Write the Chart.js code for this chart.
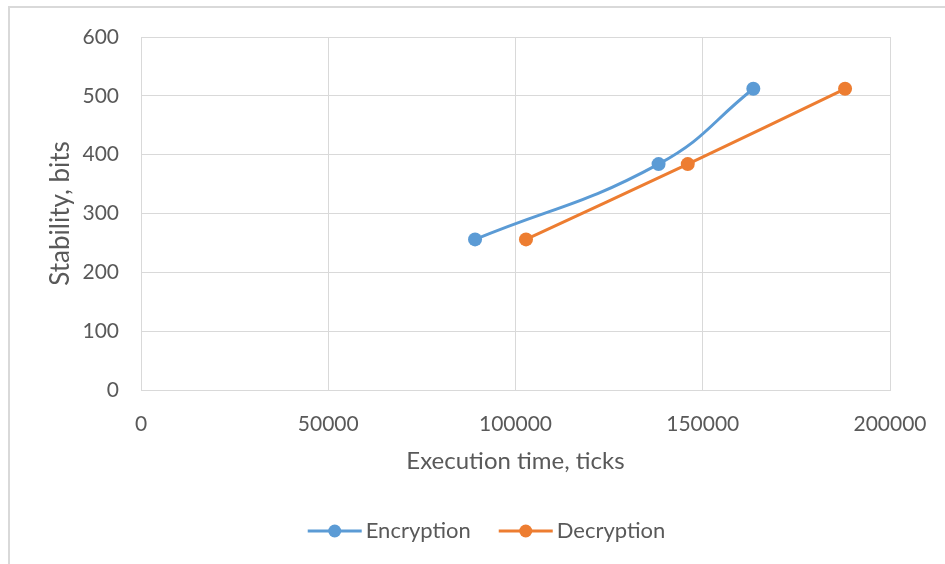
<!DOCTYPE html>
<html>
<head>
<meta charset="utf-8">
<script src="https://cdn.jsdelivr.net/npm/chart.js@4/dist/chart.umd.min.js"></script>
<style>
  html, body { margin: 0; padding: 0; background: #ffffff; }
  #wrap { position: relative; width: 945px; height: 564px; overflow: hidden; }
  #frame { position: absolute; left: 8px; top: 6px; width: 960px; height: 580px; border: 2px solid #d9d9d9; box-sizing: border-box; }
  #c { position: absolute; left: 0; top: 0; }
</style>
</head>
<body>
<div id="wrap">
  <div id="frame"></div>
  <canvas id="c" width="945" height="564"></canvas>
</div>
<script>
// Key sizes (bits) and measured execution times (ticks)
const keySizes = [256, 384, 512];
const encryptionTicks = [89200, 138200, 163500];
const decryptionTicks = [102800, 146000, 188000];
const seriesNames = ['Encryption', 'Decryption'];
const seriesColors = ['#5b9bd5', '#ed7d31'];
const xAxisTitle = 'Execution time, ticks';
const yAxisTitle = 'Stability, bits';

const FONT = 'Lato, "Open Sans", sans-serif';
const TEXT = '#595959';
const GRID = '#d9d9d9';

function toPoints(xs, ys) { return xs.map((x, i) => ({ x: x, y: ys[i] })); }

const datasets = [encryptionTicks, decryptionTicks].map((xs, i) => ({
  label: seriesNames[i],
  data: toPoints(xs, keySizes),
  borderColor: seriesColors[i],
  backgroundColor: seriesColors[i],
  borderWidth: 3,
  pointRadius: 7,
  pointHoverRadius: 7,
  pointBorderWidth: 0,
  pointStyle: 'circle',
  tension: 0.45,
  showLine: true
}));

// Legend below the axis title: line-and-marker glyph followed by the series name
const lineLegend = {
  id: 'lineLegend',
  afterDraw(chart) {
    const ctx = chart.ctx;
    const area = chart.chartArea;
    const glyphW = 54, glyphGap = 4, itemGap = 28;
    ctx.save();
    ctx.font = '22px ' + FONT;
    const items = chart.data.datasets.map(ds => ({
      ds: ds, w: ctx.measureText(ds.label).width
    }));
    const total = items.reduce((s, it) => s + glyphW + glyphGap + it.w, 0) + itemGap * (items.length - 1);
    let x = (area.left + area.right) / 2 - 29 - total / 2;
    const y = area.bottom + 141;
    items.forEach(it => {
      const c = it.ds.borderColor;
      ctx.strokeStyle = c; ctx.lineWidth = 3;
      ctx.beginPath(); ctx.moveTo(x, y); ctx.lineTo(x + glyphW, y); ctx.stroke();
      ctx.fillStyle = c;
      ctx.beginPath(); ctx.arc(x + glyphW / 2, y, 6.5, 0, Math.PI * 2); ctx.fill();
      ctx.fillStyle = TEXT;
      ctx.textBaseline = 'middle';
      ctx.textAlign = 'left';
      ctx.fillText(it.ds.label, x + glyphW + glyphGap, y);
      x += glyphW + glyphGap + it.w + itemGap;
    });
    ctx.restore();
  }
};

new Chart(document.getElementById('c'), {
  type: 'scatter',
  data: { datasets: datasets },
  plugins: [lineLegend],
  options: {
    responsive: false,
    animation: false,
    layout: { padding: { left: 0, right: 55, top: 37, bottom: 74 } },
    plugins: {
      tooltip: { enabled: false },
      legend: { display: false }
    },
    scales: {
      x: {
        type: 'linear',
        min: 0, max: 200000,
        afterFit: (s) => { s.height = 100; s.paddingLeft = 0; s.paddingRight = 0; },
        ticks: { stepSize: 50000, padding: 22, color: TEXT, font: { family: FONT, size: 21 }, maxRotation: 0, format: { useGrouping: false } },
        grid: { color: GRID, lineWidth: 1, drawTicks: false },
        border: { color: GRID },
        title: { display: true, text: xAxisTitle, color: TEXT, font: { family: FONT, size: 24 }, padding: { top: 0, bottom: 14 } }
      },
      y: {
        type: 'linear',
        min: 0, max: 600,
        afterFit: (s) => { s.width = 141; s.paddingTop = 0; s.paddingBottom = 0; },
        ticks: { stepSize: 100, padding: 22, color: TEXT, font: { family: FONT, size: 21 }, format: { useGrouping: false } },
        grid: { color: GRID, lineWidth: 1, drawTicks: false },
        border: { color: GRID },
        title: { display: true, text: yAxisTitle, color: TEXT, font: { family: FONT, size: 26 }, padding: { top: 45, bottom: 0 } }
      }
    }
  }
});
</script>
</body>
</html>
